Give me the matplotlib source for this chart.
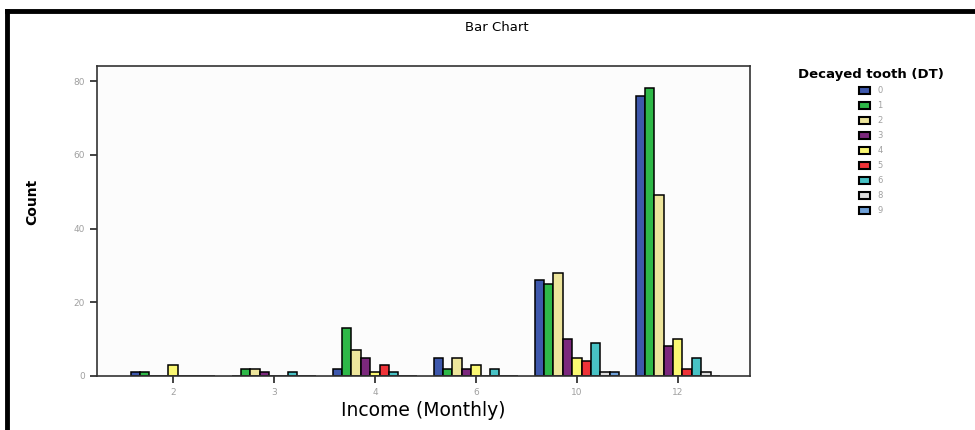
import matplotlib
matplotlib.use("Agg")
import matplotlib.pyplot as plt
import numpy as np
from matplotlib.patches import Patch
from matplotlib.lines import Line2D

# income groups on the x axis
income = ["2", "3", "4", "6", "10", "12"]

# decayed tooth (DT) counts, one list per DT value, across income groups
dt_labels = ["0", "1", "2", "3", "4", "5", "6", "8", "9"]
dt_0 = [1, 0, 2, 5, 26, 76]
dt_1 = [1, 2, 13, 2, 25, 78]
dt_2 = [0, 2, 7, 5, 28, 49]
dt_3 = [0, 1, 5, 2, 10, 8]
dt_4 = [3, 0, 1, 3, 5, 10]
dt_5 = [0, 0, 3, 0, 4, 2]
dt_6 = [0, 1, 1, 2, 9, 5]
dt_8 = [0, 0, 0, 0, 1, 1]
dt_9 = [0, 0, 0, 0, 1, 0]
series = [dt_0, dt_1, dt_2, dt_3, dt_4, dt_5, dt_6, dt_8, dt_9]

colors = ["#3E58AC", "#2EB848", "#EDE59C", "#7C287D", "#FBF873",
          "#EF3338", "#48C2C5", "#DCDCDC", "#6FA0D8"]

fig = plt.figure(figsize=(9.75, 4.3), dpi=100)
fig.patch.set_facecolor("white")

# frame lines of the original screenshot (top and left)
fig.add_artist(Line2D([0.007, 1.0], [0.974, 0.974], color="black", lw=3.5,
                      transform=fig.transFigure))
fig.add_artist(Line2D([0.007, 0.007], [0.0, 0.974], color="black", lw=3.5,
                      transform=fig.transFigure))

ax = fig.add_axes([0.0995, 0.1256, 0.6695, 0.7209])
ax.set_facecolor("#FCFCFC")

x = np.arange(len(income))
w = 0.093
n = len(series)
for i, vals in enumerate(series):
    ax.bar(x + (i - (n - 1) / 2) * w, vals, width=w, color=colors[i],
           edgecolor="black", linewidth=1.1, label=dt_labels[i])

ax.set_xlim(-0.752, 5.713)
ax.set_ylim(0, 84.07)
ax.set_xticks(x)
ax.set_xticklabels(income)
ax.set_yticks([0, 20, 40, 60, 80])
ax.tick_params(axis="both", direction="out", length=5, width=1.2,
               colors="#222222", labelcolor="#A0A0A0", labelsize=6.5)
for s in ax.spines.values():
    s.set_color("#333333")
    s.set_linewidth(1.2)

ax.set_xlabel("Income (Monthly)", fontsize=13.5, labelpad=3)
fig.text(0.033, 0.53, "Count", rotation=90, fontsize=10, fontweight="bold",
         ha="center", va="center")
fig.text(0.51, 0.935, "Bar Chart", fontsize=9.5, ha="center", va="center")

handles = [Patch(facecolor=c, edgecolor="black", linewidth=1.5) for c in colors]
leg = fig.legend(handles, dt_labels, title="Decayed tooth (DT)",
                 loc="upper center", bbox_to_anchor=(0.893, 0.856),
                 frameon=False, fontsize=6, labelcolor="#A0A0A0",
                 handlelength=1.4, handleheight=0.85, handletextpad=0.8,
                 labelspacing=0.72, borderpad=0.2)
leg.get_title().set_fontsize(9.5)
leg.get_title().set_fontweight("bold")
leg._legend_box.sep = 4

fig.savefig("out.png", dpi=100)
